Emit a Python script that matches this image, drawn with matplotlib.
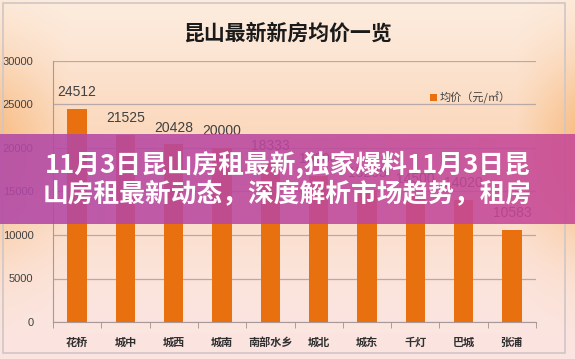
import numpy as np
import matplotlib
matplotlib.use("Agg")
import matplotlib.pyplot as plt
from matplotlib.patches import Rectangle

plt.rcParams['font.family'] = ['Noto Sans CJK SC', 'DejaVu Sans']

districts = ["花桥", "城中", "城西", "城南", "南部水乡", "城北", "城东", "千灯", "巴城", "张浦"]
prices = [24512, 21525, 20428, 20000, 18333, 16800, 15205, 14500, 14020, 10583]
yticks = [0, 5000, 10000, 15000, 20000, 25000, 30000]
title = "昆山最新新房均价一览"
legend_label = "均价（元/㎡）"
banner_lines = ["11月3日昆山房租最新,独家爆料11月3日昆", "山房租最新动态，深度解析市场趋势，租房"]

W, H = 575, 359
fig = plt.figure(figsize=(W / 100, H / 100), dpi=100)

# background gradient
bg_ax = fig.add_axes([0, 0, 1, 1], zorder=-5)
yy = np.linspace(0, 1, 200)[:, None]
xx = np.linspace(0, 1, 300)[None, :]
top = np.array([253, 238, 226]) / 255
mid = np.array([248, 184, 122]) / 255
bot = np.array([251, 228, 226]) / 255
light = np.array([254, 236, 222]) / 255
vert = np.exp(-((yy - 0.42) / 0.28) ** 2)
edge = np.clip(np.maximum((0.12 - xx) / 0.12, (xx - 0.90) / 0.10), 0, 1) * 0.6 + 0.4
w = (vert * edge)[..., None]
base = top * (1 - yy[..., None]) + bot * yy[..., None]
img = base * (1 - w) + mid * w
img = img * 0.88 + light * 0.12
bg_ax.imshow(img, aspect="auto", extent=[0, 1, 0, 1], origin="upper")
bg_ax.set_xlim(0, 1)
bg_ax.set_ylim(0, 1)
bg_ax.axis("off")
fig.add_artist(Rectangle((3 / W, 1 - 353 / H), 562 / W, 350 / H, transform=fig.transFigure,
                         fill=False, edgecolor="#cfc6c6", linewidth=1.2))

ax = fig.add_axes([53 / W, 1 - 322 / H, 483 / W, 261 / H])
ax.set_facecolor("none")
x = np.arange(len(districts))
bars = ax.bar(x, prices, width=0.4, color="#e8700e", label=legend_label, zorder=3)
for xi, v in zip(x, prices):
    ax.annotate(str(v), (xi, v), xytext=(0, 7), textcoords="offset points",
                ha="center", va="bottom", fontsize=10, color="#404040",
                family=['Liberation Sans', 'DejaVu Sans'])

ax.set_xlim(-0.5, len(districts) - 0.5)
ax.set_ylim(0, 30000)
ax.set_yticks(yticks)
ax.set_yticklabels([str(t) for t in yticks], fontsize=8, color="#404040",
                   family=['Liberation Sans', 'DejaVu Sans'])
ax.tick_params(axis="y", length=0, pad=14)
ax.set_xticks(x)
ax.set_xticklabels(districts, fontsize=8, color="#303030", fontweight="bold")
ax.tick_params(axis="x", length=0, pad=10)
ax.set_xticks(np.arange(-0.5, len(districts)), minor=True)
ax.tick_params(axis="x", which="minor", length=4, color="#a09090")
ax.grid(axis="y", color="#b8a8a8", linewidth=0.9, zorder=0)
for s in ["top", "right"]:
    ax.spines[s].set_visible(False)
ax.spines["left"].set_color("#a89898")
ax.spines["bottom"].set_color("#a89898")

ax.legend(loc="upper left", bbox_to_anchor=(0.76, 0.92), frameon=False, fontsize=8,
          handlelength=0.6, handleheight=0.6, handletextpad=0.3, labelcolor="#404040")

fig.text(287 / W, 1 - 33 / H, title, ha="center", va="center", fontsize=15,
         fontweight="heavy", color="#1a1a1a")

# overlay banner
band = fig.add_axes([0, 1 - 224 / H, 1, 90 / H], zorder=10)
grad = np.linspace(0, 1, 256)[None, :, None]
c1 = np.array([178, 72, 168]) / 255
c2 = np.array([200, 72, 150]) / 255
band_img = c1 * (1 - grad) + c2 * grad
band.imshow(band_img, aspect="auto", extent=[0, 1, 0, 1], alpha=0.88)
band.set_xlim(0, 1)
band.set_ylim(0, 1)
band.axis("off")
band.text(0.5, 0.66, banner_lines[0], ha="center", va="center", fontsize=18.5,
          fontweight="heavy", color="white")
band.text(0.5, 0.33, banner_lines[1], ha="center", va="center", fontsize=18.5,
          fontweight="heavy", color="white")

fig.savefig("out.png", dpi=100)
